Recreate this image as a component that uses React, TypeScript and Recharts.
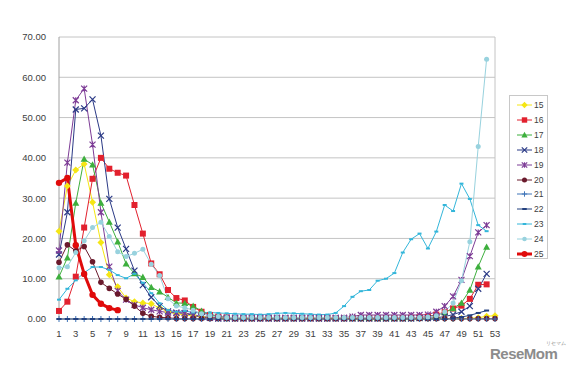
import React from "react";
import { LineChart, Line, XAxis, YAxis, CartesianGrid, ReferenceLine } from "recharts";

// weeks 1..53
const weeks = Array.from({ length: 53 }, (_, i) => i + 1);
const yTicks = [0, 10, 20, 30, 40, 50, 60, 70];

const s15 = [21.8, 33, 37, 38.5, 29, 19, 11, 8, 5.2, 4.3, 4, 3.8, 2.7, 1.8, 1.3, 1, 0.8, 0.5, 0.3, 0.2,
  0.1, 0.1, 0.1, 0.1, 0.1, 0.1, 0.1, 0.1, 0.1, 0.1, 0.1, 0.1, 0.1, 0.1, 0.1, 0.1, 0.1, 0.1, 0.1, 0.1,
  0.1, 0.1, 0.1, 0.1, 0.1, 0.1, 0.1, 0.1, 0.1, 0.2, 0.3, 0.7, 0.8];
const s16 = [2, 4.3, 10.5, 22.7, 34.8, 40, 37.3, 36.3, 35.6, 28.3, 21.2, 13.8, 11.1, 7.2, 5.2, 4.6, 3, 1.8, 1, 0.6,
  0.4, 0.2, 0.2, 0.2, 0.2, 0.2, 0.2, 0.2, 0.2, 0.2, 0.2, 0.2, 0.2, 0.2, 0.2, 0.2, 0.2, 0.2, 0.2, 0.2,
  0.2, 0.2, 0.3, 0.4, 0.6, 1.1, 1.7, 2.6, 3.3, 5, 8.5, 8.6];
const s17 = [10.5, 15.2, 28.8, 39.7, 38.3, 28.8, 24.1, 19.2, 13.7, 11.3, 10.4, 7.9, 6.8, 5.4, 4, 3.9, 3.2, 2, 1.2, 0.7,
  0.4, 0.2, 0.2, 0.2, 0.2, 0.2, 0.2, 0.2, 0.2, 0.2, 0.2, 0.2, 0.2, 0.2, 0.2, 0.2, 0.2, 0.2, 0.2, 0.2,
  0.2, 0.2, 0.3, 0.3, 0.5, 0.9, 1.6, 2.6, 4, 7.2, 13, 17.9];
const s18 = [16, 26.5, 52, 52.3, 54.5, 45.5, 29.8, 22.7, 17.4, 12, 8.4, 5.4, 3.2, 1.9, 1.6, 1.4, 0.9, 0.5, 0.3, 0.1,
  0.1, 0.1, 0.1, 0.1, 0.1, 0.1, 0.1, 0.1, 0.1, 0.1, 0.1, 0.1, 0.1, 0.1, 0.1, 0.1, 0.1, 0.1, 0.1, 0.1,
  0.1, 0.1, 0.1, 0.2, 0.2, 0.3, 0.6, 1.1, 1.8, 3.2, 7.5, 11.2];
const s19 = [17, 38.8, 54.3, 57.2, 43.3, 26.5, 13, 7, 4.8, 3.5, 2.8, 2.3, 1.9, 1.6, 1.5, 1.5, 1.1, 0.6, 0.4, 0.3,
  0.3, 0.3, 0.3, 0.3, 0.3, 0.3, 0.3, 0.3, 0.3, 0.3, 0.3, 0.3, 0.3, 0.3, 0.3, 0.6, 1, 1, 1, 1,
  1, 1, 1, 1, 1.1, 1.8, 3.2, 5.6, 9.7, 15.6, 21.5, 23.3];
const s20 = [14.1, 18.4, 16.9, 18, 14.2, 9.1, 7.6, 6.2, 4.9, 3.2, 1.4, 0.7, 0.4, 0.3, 0.1, 0.1, 0.1, 0.1, 0.1, 0.1,
  0.1, 0.1, 0.1, 0.1, 0.1, 0.1, 0.1, 0.1, 0.1, 0.1, 0.1, 0.1, 0.1, 0.1, 0.1, 0.1, 0.1, 0.1, 0.1, 0.1,
  0.1, 0.1, 0.1, 0.1, 0.1, 0.1, 0.1, 0.1, 0.1, 0.1, 0.1, 0.1, 0.1];
const s21 = [0, 0, 0, 0, 0, 0, 0, 0, 0, 0, 0, 0, 0, 0, 0, 0, 0, 0, 0, 0,
  0, 0, 0, 0, 0, 0, 0, 0, 0, 0, 0, 0, 0, 0, 0, 0, 0, 0, 0, 0,
  0, 0, 0, 0, 0, 0, 0, 0, 0, 0, 0, 0, 0];
const s22 = [0, 0, 0, 0, 0, 0, 0, 0, 0, 0, 0, 0, 0, 0, 0, 0, 0, 0, 0, 0,
  0, 0, 0, 0, 0, 0, 0, 0, 0, 0, 0, 0, 0, 0, 0, 0, 0, 0, 0, 0,
  0, 0, 0, 0, 0, 0, 0, 0.2, 0.5, 0.9, 1.5, 2.1];
const s23 = [4.8, 7.5, 9.6, 11.5, 12.9, 12.9, 12.2, 10.9, 10.1, 11.2, 9, 6.4, 3.9, 2.2, 1.8, 2, 1.6, 1.5, 1.6, 1.5,
  1.4, 1.3, 1.2, 1.2, 1.1, 1.2, 1.4, 1.5, 1.4, 1.3, 1.2, 1.1, 1.1, 1.5, 3.2, 5.5, 6.9, 7.2, 9.5, 10,
  11.4, 16.5, 19.8, 21.2, 17.5, 21.7, 28.3, 26.8, 33.6, 29.8, 23.3, 21.8];
const s24 = [12.7, 13, 16.5, 19.4, 22.7, 24, 20.5, 16.7, 15.5, 16.3, 17.3, 13.6, 10.8, 5, 3.2, 2.8, 2.2, 1.3, 0.8, 0.6,
  0.4, 0.4, 0.4, 0.4, 0.4, 0.4, 0.4, 0.4, 0.4, 0.4, 0.4, 0.4, 0.4, 0.4, 0.4, 0.4, 0.4, 0.4, 0.4, 0.4,
  0.4, 0.4, 0.4, 0.4, 0.5, 0.8, 1.8, 4, 9.5, 19.2, 42.8, 64.5];
const s25 = [33.8, 35, 18.3, 11.2, 6, 3.8, 2.7, 2.2];

type Shape = "diamond" | "square" | "triangle" | "x" | "star" | "circle" | "plus" | "dash" | "none";

const series: { key: string; name: string; vals: number[]; color: string; shape: Shape; width: number; size: number }[] = [
  { key: "s15", name: "15", vals: s15, color: "#F5E614", shape: "diamond", width: 1, size: 3.5 },
  { key: "s16", name: "16", vals: s16, color: "#E2212E", shape: "square", width: 1, size: 3 },
  { key: "s17", name: "17", vals: s17, color: "#3DAF3D", shape: "triangle", width: 1, size: 3.5 },
  { key: "s18", name: "18", vals: s18, color: "#2B3A86", shape: "x", width: 1, size: 3 },
  { key: "s19", name: "19", vals: s19, color: "#7D3C96", shape: "star", width: 1, size: 3 },
  { key: "s20", name: "20", vals: s20, color: "#6A1A2C", shape: "circle", width: 1, size: 2.8 },
  { key: "s21", name: "21", vals: s21, color: "#3E74B8", shape: "plus", width: 1, size: 3 },
  { key: "s22", name: "22", vals: s22, color: "#23407E", shape: "dash", width: 1, size: 2.5 },
  { key: "s23", name: "23", vals: s23, color: "#33B6DA", shape: "dash", width: 1, size: 2 },
  { key: "s24", name: "24", vals: s24, color: "#98D2DE", shape: "circle", width: 1, size: 2.5 },
  { key: "s25", name: "25", vals: s25, color: "#E00B0B", shape: "circle", width: 3, size: 3.2 },
];

const rows = weeks.map((w, i) => {
  const r: Record<string, number | null> = { week: w };
  series.forEach((s) => {
    r[s.key] = i < s.vals.length ? s.vals[i] : null;
  });
  return r;
});

function Marker({ shape, cx, cy, color, size }: { shape: Shape; cx: number; cy: number; color: string; size: number }) {
  const s = size;
  switch (shape) {
    case "diamond":
      return <path d={`M${cx},${cy - s}L${cx + s},${cy}L${cx},${cy + s}L${cx - s},${cy}Z`} fill={color} />;
    case "square":
      return <rect x={cx - s} y={cy - s} width={2 * s} height={2 * s} fill={color} />;
    case "triangle":
      return <path d={`M${cx},${cy - s}L${cx + s},${cy + s * 0.8}L${cx - s},${cy + s * 0.8}Z`} fill={color} />;
    case "x":
      return <path d={`M${cx - s},${cy - s}L${cx + s},${cy + s}M${cx + s},${cy - s}L${cx - s},${cy + s}`} stroke={color} strokeWidth={1.2} />;
    case "star":
      return (
        <path
          d={`M${cx - s},${cy - s}L${cx + s},${cy + s}M${cx + s},${cy - s}L${cx - s},${cy + s}M${cx},${cy - s}L${cx},${cy + s}`}
          stroke={color}
          strokeWidth={1.2}
        />
      );
    case "circle":
      return <circle cx={cx} cy={cy} r={s} fill={color} />;
    case "plus":
      return <path d={`M${cx - s},${cy}L${cx + s},${cy}M${cx},${cy - s}L${cx},${cy + s}`} stroke={color} strokeWidth={1} />;
    case "dash":
      return <path d={`M${cx - s},${cy}L${cx + s},${cy}`} stroke={color} strokeWidth={2} />;
    default:
      return null;
  }
}

const makeDot = (shape: Shape, color: string, size: number) => (props: any) => {
  const { cx, cy, index } = props;
  if (cx == null || cy == null || Number.isNaN(cy)) return <g key={index} />;
  return (
    <g key={index}>
      <Marker shape={shape} cx={cx} cy={cy} color={color} size={size} />
    </g>
  );
};

const font = "'Liberation Sans', Arial, sans-serif";

function LegendBox() {
  return (
    <div
      style={{
        position: "absolute",
        left: 509,
        top: 95,
        width: 39,
        height: 164,
        border: "1px solid #c8c8c8",
        background: "#fff",
        boxSizing: "border-box",
        fontFamily: font,
        fontSize: 8.5,
        color: "#404040",
      }}
    >
      {series.map((s, i) => (
        <div key={s.key} style={{ position: "absolute", left: 6, top: 3 + i * 14.9, height: 12, display: "flex", alignItems: "center" }}>
          <svg width={17} height={10} style={{ display: "block" }}>
            <line x1={1} y1={5} x2={16} y2={5} stroke={s.color} strokeWidth={s.width} />
            <Marker shape={s.shape} cx={8.5} cy={5} color={s.color} size={s.size * 0.9} />
          </svg>
          <span style={{ marginLeft: 1 }}>{s.name}</span>
        </div>
      ))}
    </div>
  );
}

export default function App() {
  return (
    <div style={{ position: "fixed", left: 0, top: 0, width: 574, height: 381, background: "#fff" }}>
      <LineChart width={574} height={381} data={rows} margin={{ top: 37, right: 79, bottom: 42, left: 0 }}>
        <CartesianGrid vertical={false} stroke="#c4c4c4" />
        <XAxis
          dataKey="week"
          interval={1}
          tickLine={false}
          axisLine={{ stroke: "#a0a0a0" }}
          tick={{ fontSize: 9.5, fill: "#404040", fontFamily: font }}
          tickMargin={5}
          height={20}
        />
        <YAxis
          domain={[0, 70]}
          ticks={yTicks}
          tickFormatter={(v: number) => v.toFixed(2)}
          tickLine={false}
          axisLine={{ stroke: "#a0a0a0" }}
          tick={{ fontSize: 9.5, fill: "#404040", fontFamily: font }}
          tickMargin={7}
          width={59}
        />
        <ReferenceLine x={53} stroke="#c4c4c4" />
        {series.map((s) => (
          <Line
            key={s.key}
            type="linear"
            dataKey={s.key}
            name={s.name}
            stroke={s.color}
            strokeWidth={s.width}
            dot={makeDot(s.shape, s.color, s.size)}
            activeDot={false}
            isAnimationActive={false}
          />
        ))}
      </LineChart>
      <LegendBox />
      <div style={{ position: "absolute", left: 490, top: 340, fontFamily: "'Liberation Sans', Arial, sans-serif", color: "#8c8c8c" }}>
        <div style={{ fontSize: 5, marginLeft: 56, lineHeight: "6px" }}>リセマム</div>
        <div style={{ fontSize: 15, fontWeight: "bold", letterSpacing: -0.5, lineHeight: "16px" }}>ReseMom</div>
      </div>
    </div>
  );
}
